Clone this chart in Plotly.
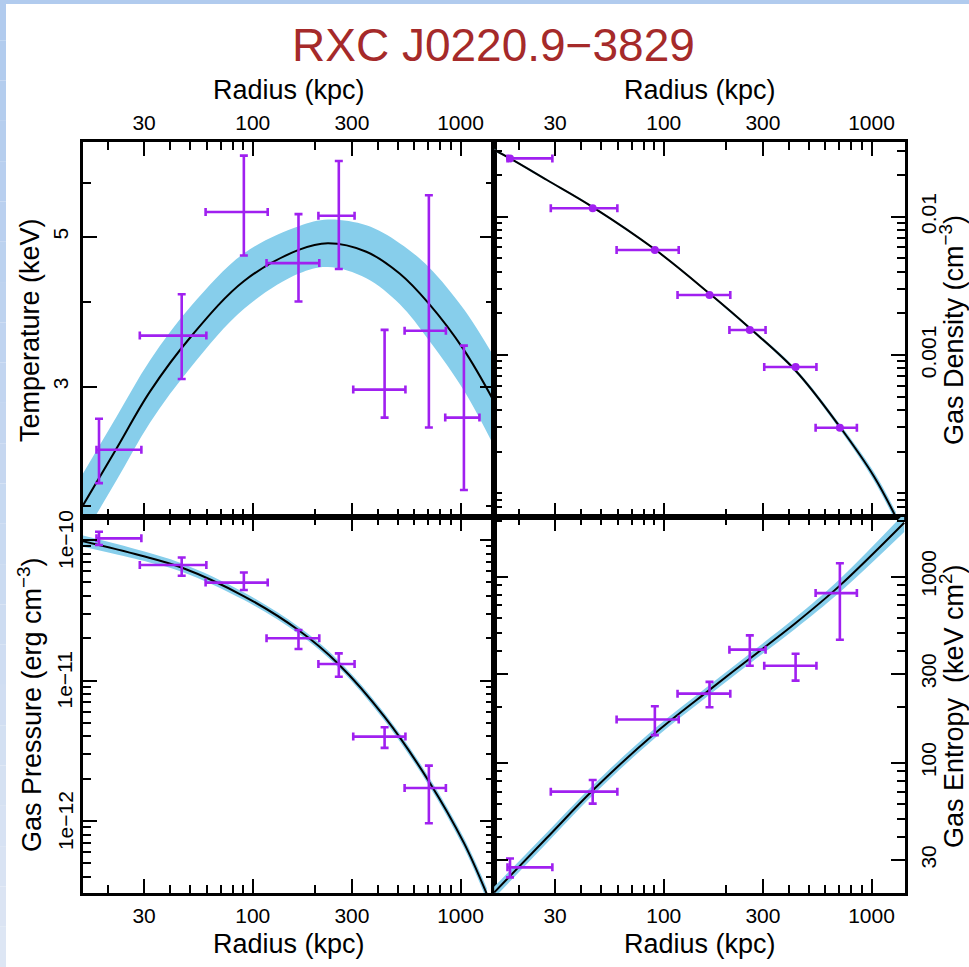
import math
import plotly.graph_objects as go

W, H = 969, 967

# ---------------- data ----------------
# radial bins (kpc): centre, lower edge, upper edge
r_mid = [18.2, 45.5, 90.6, 166.0, 259.5, 431.0, 704.0, 1038.0]
r_lo = [17.7, 28.6, 59.3, 116.5, 207.0, 304.5, 538.0, 844.0]
r_hi = [29.1, 59.8, 118.0, 209.0, 309.0, 543.0, 850.0, 1233.0]

# temperature (keV)
temp = [2.42, 3.57, 5.44, 4.57, 5.37, 2.97, 3.63, 2.70]
temp_lo = [2.16, 3.08, 4.69, 4.01, 4.48, 2.70, 2.61, 2.11]
temp_hi = [2.69, 4.11, 6.59, 5.40, 6.47, 3.64, 5.76, 3.45]

# gas density (cm^-3)
dens = [0.0264, 0.0115, 0.00574, 0.002715, 0.001517, 0.00082, 0.000298]

# gas pressure (erg cm^-3)
pres = [1.028e-10, 6.64e-11, 4.98e-11, 2.0e-11, 1.31e-11, 3.99e-12, 1.72e-12]
pres_lo = [9.21e-11, 5.57e-11, 4.41e-11, 1.676e-11, 1.065e-11, 3.32e-12, 9.64e-13]
pres_hi = [1.146e-10, 7.52e-11, 5.87e-11, 2.29e-11, 1.56e-11, 4.65e-12, 2.48e-12]

# gas entropy (keV cm^2)
entr = [27.4, 69.9, 170.6, 235.0, 404.8, 332.0, 814.8]
entr_lo = [24.2, 60.3, 140.6, 198.6, 332.0, 276.0, 458.0]
entr_hi = [30.6, 80.7, 201.0, 271.8, 482.9, 385.2, 1180.0]

# model curves and confidence bands
T_mod_r = [15.2, 22.1, 32.0, 50.7, 90.8, 166.4, 230, 352, 509, 704, 1038, 1442]
T_mod = [2.00, 2.43, 2.95, 3.565, 4.30, 4.78, 4.89, 4.75, 4.41, 3.98, 3.40, 2.86]
T_band_lo = [1.795, 2.181, 2.654, 3.214, 3.913, 4.410, 4.511, 4.342, 3.976, 3.515, 2.961, 2.457]
T_band_hi = [2.229, 2.708, 3.280, 3.954, 4.726, 5.181, 5.300, 5.197, 4.892, 4.507, 3.904, 3.329]

n_mod_r = [15.27, 18.2, 27.4, 45.7, 90.5, 165.5, 259.8, 431.5, 703.5, 1029, 1309]
n_mod = [0.0304, 0.0264, 0.01842, 0.01169, 0.00581, 0.002793, 0.00156, 0.00077, 0.000303, 0.000132, 6.75e-5]
n_band_lo = [0.02985, 0.02592, 0.01808, 0.01148, 0.00570, 0.002742, 0.001520, 0.000745, 0.000289, 0.000123, 6.23e-5]
n_band_hi = [0.03097, 0.02689, 0.01876, 0.01191, 0.00592, 0.002845, 0.001601, 0.000797, 0.000317, 0.000142, 7.32e-5]

P_mod_r = [15.2, 28.6, 45.4, 90.8, 166.3, 259.1, 431, 704.5, 1038, 1338]
P_mod = [9.82e-11, 7.80e-11, 6.38e-11, 3.98e-11, 2.279e-11, 1.308e-11, 5.508e-12, 1.915e-12, 6.99e-13, 3.024e-13]
P_band_lo = [8.956e-11, 7.196e-11, 5.954e-11, 3.740e-11, 2.151e-11, 1.235e-11, 5.176e-12, 1.787e-12, 6.449e-13, 2.745e-13]
P_band_hi = [1.0768e-10, 8.454e-11, 6.836e-11, 4.235e-11, 2.414e-11, 1.386e-11, 5.861e-12, 2.052e-12, 7.576e-13, 3.331e-13]

K_mod_r = [15.27, 27.4, 45.7, 90.5, 165.5, 259.8, 431.5, 703.5, 1436]
K_mod = [20.1, 39.5, 71.3, 143.6, 245.5, 363.1, 563.4, 893.9, 1945]
K_band_lo = [18.76, 37.03, 67.01, 135.3, 231.2, 341.2, 525.8, 822.8, 1733]
K_band_hi = [21.54, 42.13, 75.87, 152.5, 260.6, 386.4, 603.7, 971.1, 2182]

# axis ticks
x_major = [30, 100, 300, 1000]
x_minor = [20, 40, 50, 60, 70, 80, 90, 200, 400, 500, 600, 700, 800, 900]
T_major = [3, 5]
T_minor = [2, 4, 6]
n_major = [1e-3, 1e-2]
n_major_text = ["0.001", "0.01"]
n_minor = [7e-5, 8e-5, 9e-5, 1e-4] + [k * 1e-4 for k in range(2, 10)] + [k * 1e-3 for k in range(2, 10)] + [2e-2, 3e-2]
P_major = [1e-12, 1e-11, 1e-10]
P_major_text = ["1e\u221212", "1e\u221211", "1e\u221210"]
P_minor = [k * 1e-13 for k in range(4, 10)] + [k * 1e-12 for k in range(2, 10)] + [k * 1e-11 for k in range(2, 10)]
K_major = [30, 100, 300, 1000]
K_minor = [20, 40, 50, 60, 70, 80, 90, 200, 400, 500, 600, 700, 800, 900, 2000]

# ---------------- styling ----------------
PURPLE = "#A020F0"
BAND = "#87CEEB"
FONT = "Liberation Sans, Arial, Helvetica, sans-serif"

def px(x):
    return x / W

def py(y):
    return 1 - y / H

XL = [px(83), px(494)]
XR = [px(494), px(905)]
YT = [py(517), py(142)]
YB = [py(893), py(517)]

fig = go.Figure()

def add_panel(xa, ya, mr, mv, blo, bhi, yy, ylo=None, yhi=None, marker=0):
    n = len(yy)
    fig.add_trace(go.Scatter(x=mr, y=bhi, mode="lines", line=dict(width=0, color=BAND, shape="spline"),
                             xaxis=xa, yaxis=ya, showlegend=False, hoverinfo="skip"))
    fig.add_trace(go.Scatter(x=mr, y=blo, mode="lines", line=dict(width=0, color=BAND, shape="spline"),
                             fill="tonexty", fillcolor=BAND, xaxis=xa, yaxis=ya, showlegend=False,
                             hoverinfo="skip"))
    fig.add_trace(go.Scatter(x=mr, y=mv, mode="lines", line=dict(width=2, color="black", shape="spline"),
                             xaxis=xa, yaxis=ya, showlegend=False))
    xm = r_mid[:n]
    ex_p = [r_hi[i] - r_mid[i] for i in range(n)]
    ex_m = [r_mid[i] - r_lo[i] for i in range(n)]
    if ylo is not None:
        ey = dict(type="data", symmetric=False,
                  array=[yhi[i] - yy[i] for i in range(n)],
                  arrayminus=[yy[i] - ylo[i] for i in range(n)],
                  color=PURPLE, thickness=2.6, width=4)
    else:
        ey = dict(visible=False)
    fig.add_trace(go.Scatter(x=xm, y=yy, mode="markers",
                             marker=dict(size=marker if marker else 1, color=PURPLE),
                             error_x=dict(type="data", symmetric=False, array=ex_p, arrayminus=ex_m,
                                          color=PURPLE, thickness=2.6, width=4),
                             error_y=ey, xaxis=xa, yaxis=ya, showlegend=False))

add_panel("x", "y", T_mod_r, T_mod, T_band_lo, T_band_hi, temp, temp_lo, temp_hi)
add_panel("x2", "y2", n_mod_r, n_mod, n_band_lo, n_band_hi, dens, marker=8)
add_panel("x3", "y3", P_mod_r, P_mod, P_band_lo, P_band_hi, pres, pres_lo, pres_hi)
add_panel("x4", "y4", K_mod_r, K_mod, K_band_lo, K_band_hi, entr, entr_lo, entr_hi)

def axis(domain, anchor, side, rng, major, major_text, minor, vertical=False, standoff=0, labels=True):
    d = dict(domain=domain, anchor=anchor, side=side, type="log", range=rng, automargin=False,
             showline=True, linewidth=3, linecolor="black", mirror="ticks",
             ticks="inside", ticklen=14, tickwidth=1.5, tickcolor="black",
             tickmode="array", tickvals=major, ticktext=major_text, showticklabels=labels,
             tickfont=dict(size=21, color="black", family=FONT),
             showgrid=False, zeroline=False, ticklabelstandoff=standoff,
             minor=dict(ticks="inside", ticklen=8, tickwidth=1.5, tickcolor="black",
                        tickmode="array", tickvals=minor, showgrid=False))
    if vertical:
        d["tickangle"] = -90
    return d

xr = [1.183, 3.161]
x_text = [str(v) for v in x_major]
fig.update_layout(
    template="none",
    width=W, height=H, margin=dict(l=0, r=0, t=0, b=0, pad=0), autosize=False,
    paper_bgcolor="white", plot_bgcolor="white",
    font=dict(family=FONT, color="black"),
    xaxis=axis(XL, "y", "top", xr, x_major, x_text, x_minor, standoff=1),
    yaxis=axis(YT, "x", "left", [0.2843, 0.8391], T_major, [str(v) for v in T_major], T_minor, True, 4),
    xaxis2=axis(XR, "y2", "top", xr, x_major, x_text, x_minor, standoff=1),
    yaxis2=axis(YT, "x2", "right", [-4.171, -1.460], n_major, n_major_text, n_minor, True, 3),
    xaxis3=axis(XL, "y3", "bottom", xr, x_major, x_text, x_minor, standoff=2),
    yaxis3=axis(YB, "x3", "left", [-12.512, -9.836], P_major, P_major_text, P_minor, True, 4, labels=False),
    xaxis4=axis(XR, "y4", "bottom", xr, x_major, x_text, x_minor, standoff=2),
    yaxis4=axis(YB, "x4", "right", [1.300, 3.320], K_major, [str(v) for v in K_major], K_minor, True, 3),
)

# page border strips
shapes = [dict(type="rect", xref="paper", yref="paper", x0=0, x1=1, y0=py(4), y1=1,
               fillcolor="#B1CBEE", line=dict(width=0), layer="below")]
nseg = 24
for i in range(nseg):
    f = i / (nseg - 1)
    c = (int(177 + (221 - 177) * f), int(203 + (230 - 203) * f), int(238 + (244 - 238) * f))
    shapes.append(dict(type="rect", xref="paper", yref="paper", x0=0, x1=px(6),
                       y0=py(H * (i + 1) / nseg), y1=py(H * i / nseg),
                       fillcolor="rgb(%d,%d,%d)" % c, line=dict(width=0), layer="below"))
fig.update_layout(shapes=shapes)

ann = []
def text(x, y, s, size=27, angle=0, color="black"):
    ann.append(dict(x=px(x), y=py(y), xref="paper", yref="paper", text=s, showarrow=False,
                    xanchor="center", yanchor="middle", textangle=angle,
                    font=dict(size=size, color=color, family=FONT)))

text(493, 45, "RXC J0220.9\u22123829", size=46, color="#A52A2A")
text(289, 90, "Radius (kpc)")
text(700, 90, "Radius (kpc)")
text(289, 944, "Radius (kpc)")
text(700, 944, "Radius (kpc)")
text(30, 330, "Temperature (keV)", angle=-90)
text(30, 705, "Gas Pressure (erg cm<sup>\u22123</sup>)", angle=-90)
text(952, 330, "Gas Density (cm<sup>\u22123</sup>)", angle=-90)
text(952, 706, "Gas Entropy  (keV cm<sup>2</sup>)", angle=-90)

# pressure tick labels, placed on the pressure axis scale
for v, s in zip(P_major, P_major_text):
    ann.append(dict(x=px(65), xref="paper", y=math.log10(v), yref="y3", text=s, showarrow=False,
                    xanchor="center", yanchor="middle", textangle=-90,
                    font=dict(size=21, color="black", family=FONT)))
fig.update_layout(annotations=ann)

fig.write_html("out.html")
